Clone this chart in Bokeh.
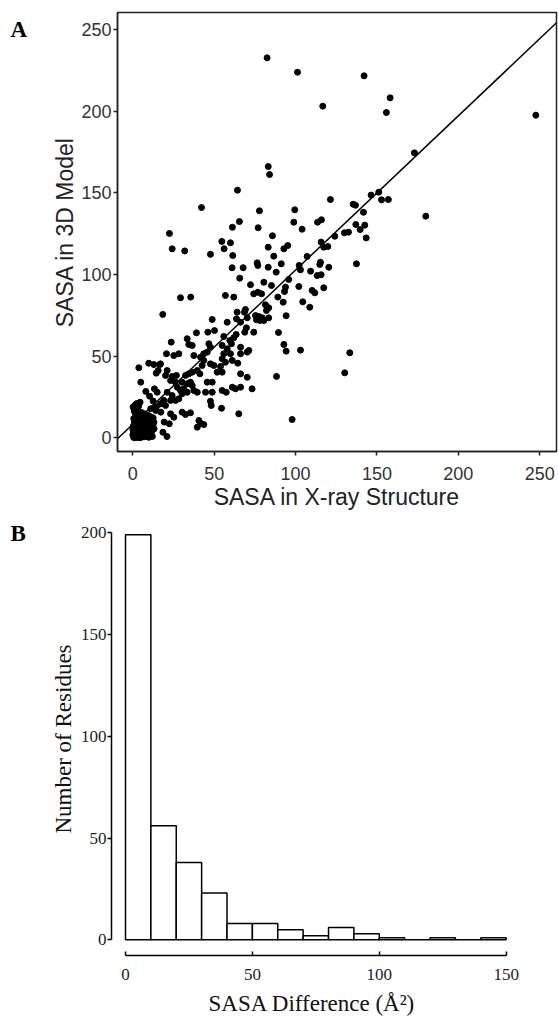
from bokeh.plotting import figure
from bokeh.layouts import column, row
from bokeh.models import FixedTicker, Range1d
from bokeh.core.properties import value
from bokeh.embed import file_html
from bokeh.resources import INLINE

# ---------------- Panel A data: SASA in X-ray structure vs 3D model ----------------
xray = [
    82.5, 83.2, 84.0, 64.3, 42.2, 77.8, 65.5, 22.5, 61.2, 77.0, 85.8, 54.7, 60.0, 24.2, 56.1, 83.2, 31.9,
    101.2, 142.1, 158.1, 116.7, 155.8, 247.6, 173.0, 121.4, 135.4, 136.8, 146.4, 151.1, 152.8, 157.0,
    99.5, 141.7, 180.0, 98.9, 113.5, 115.9, 104.0, 137.0, 142.5, 139.7, 130.0, 132.5, 143.4, 124.1,
    115.7, 119.8, 117.3, 95.2, 92.8,
    86.6, 107.1, 91.2, 102.2, 115.3, 114.9, 120.4, 88.1, 103.0, 109.2, 113.3, 115.7, 95.8, 85.2, 102.0,
    93.8, 93.2, 110.2, 111.8, 117.3, 89.1, 92.4, 104.4, 108.7, 137.4, 94.2, 89.5, 92.8, 94.2, 103.0,
    133.3, 130.2, 88.3, 97.9,
    47.7, 61.4, 61.0, 67.8, 76.4, 76.8, 83.2, 65.7, 72.3, 80.5, 74.3, 76.8, 79.1, 56.9, 62.0, 81.5,
    83.5, 69.2, 64.1, 75.4, 77.4, 79.5, 78.0, 76.0, 80.5, 83.5, 82.1, 48.8, 58.0, 63.7, 66.2, 70.3,
    68.6, 46.1, 50.2, 55.9, 62.0, 63.5, 74.3, 69.8, 68.8,
    29.3, 35.6, 18.4, 39.1, 23.6, 33.4, 34.4, 36.5,
    59.6, 60.6, 66.2, 71.3, 46.7, 47.7, 45.7, 43.6, 54.9, 58.0, 60.0, 61.1, 56.9, 54.9, 55.9, 20.7,
    25.2, 28.3, 37.5, 41.6, 43.6, 42.6, 39.6, 41.2, 47.7, 49.8, 66.2, 70.3, 54.9, 66.2, 70.3, 17.0,
    21.1, 20.1, 24.2, 26.8, 23.2, 26.2, 32.4, 34.4, 36.5, 30.3, 33.4, 35.4, 27.3, 29.3, 31.3, 33.4,
    30.3, 36.5, 37.5, 21.1, 24.2, 26.2, 28.3, 23.2, 19.0, 17.0, 20.1, 39.6, 44.7, 48.8, 45.7, 48.8,
    54.9, 57.4, 61.1, 63.1, 66.2, 73.3, 65.1, 47.7, 48.2, 54.5, 30.3, 32.4, 35.4, 23.2, 25.2, 40.6,
    53.9, 64.5, 51.8,
    3.7, 9.8, 12.9, 16.6, 14.4, 15.6, 39.6, 41.6, 43.6, 13.3, 15.0,
    4.9, 8.0, 4.5, 0.2, 1.5, 11.0, 14.1, 13.1, 17.2, 19.3, 22.4, 18.5, 21.0, 12.5, 10.3,
    0.5, 1.2, 2.0, 3.1, 0.8, 2.5, 4.0, 4.8, 5.5, 6.2, 1.5, 3.3, 5.1, 6.8, 7.5, 8.3, 0.3, 2.2, 4.2, 6.0,
    7.9, 9.0, 9.6, 1.0, 3.0, 5.0, 7.1, 8.8, 10.2, 10.8, 0.6, 2.6, 4.6, 6.5, 8.4, 10.0, 11.5, 1.8, 3.8,
    5.8, 7.6, 9.5, 11.2, 12.3, 0.9, 3.1, 5.2, 7.0, 8.9, 10.6, 12.5, 13.0, 2.0, 3.9, 1.1, 2.9, 4.5,
    6.9, 8.1, 0.0, 0.1, 9.8, 12.0, 11.0, 1.6, 3.6, 14.5, 2.4,
]
model = [
    232.8, 166.2, 161.3, 151.7, 141.1, 139.1, 132.5, 125.2, 129.0, 128.7, 123.8, 120.3, 119.5, 115.8, 115.8, 116.8, 114.5,
    224.0, 221.8, 208.3, 203.2, 199.3, 197.7, 174.6, 146.0, 143.1, 142.5, 148.7, 150.5, 145.8, 146.0,
    139.7, 138.2, 135.8, 132.1, 132.1, 133.6, 127.8, 130.7, 130.3, 127.6, 125.6, 126.0, 122.5, 123.5,
    119.9, 117.2, 116.8, 117.8, 115.8,
    111.3, 111.1, 106.6, 105.6, 107.6, 106.2, 104.5, 101.5, 102.9, 102.1, 99.4, 99.9, 97.0, 93.3, 92.7,
    92.3, 89.6, 90.3, 88.8, 91.9, 86.2, 83.1, 83.3, 80.0, 106.6, 74.8, 64.5, 57.2, 53.1, 53.7,
    52.1, 39.8, 37.6, 11.2,
    112.4, 111.7, 104.2, 104.2, 107.2, 105.6, 104.5, 97.8, 93.8, 95.3, 88.2, 89.2, 88.2, 87.2, 86.2, 81.5,
    79.7, 78.6, 77.0, 74.9, 74.3, 73.5, 71.9, 72.3, 71.9, 73.5, 78.0, 72.5, 70.8, 72.9, 70.8, 73.5,
    77.0, 64.7, 65.7, 62.1, 61.3, 63.3, 64.7, 67.4, 64.7,
    85.8, 86.2, 75.6, 64.3, 58.6, 60.7, 57.2, 56.6,
    59.6, 57.6, 55.5, 53.5, 57.6, 55.5, 52.5, 51.5, 56.6, 54.5, 51.5, 47.4, 46.3, 48.4, 51.5, 51.5,
    50.4, 51.5, 50.4, 49.4, 47.4, 44.3, 41.2, 39.2, 45.3, 44.3, 51.5, 52.5, 40.2, 39.2, 37.1, 45.3,
    41.2, 38.2, 37.6, 38.2, 35.1, 34.1, 38.2, 39.2, 40.2, 34.1, 33.1, 34.1, 31.0, 29.0, 30.0, 27.9,
    27.0, 32.0, 29.0, 27.9, 25.9, 22.9, 23.9, 22.9, 22.9, 20.8, 19.8, 27.9, 27.9, 27.9, 34.1, 34.1,
    29.0, 27.9, 31.0, 30.0, 31.0, 30.0, 14.7, 22.4, 19.8, 18.1, 15.7, 14.3, 15.3, 14.7, 12.6, 10.6,
    43.7, 45.7, 40.2,
    42.9, 45.7, 44.9, 44.9, 39.6, 41.2, 6.5, 8.9, 8.1, 30.0, 27.9,
    34.1, 28.4, 21.8, 18.8, 20.2, 17.8, 16.7, 5.5, 15.7, 9.6, 8.6, 3.4, 0.8, 22.5, 25.5,
    0.3, 1.5, 0.8, 2.2, 3.4, 4.1, 1.0, 3.3, 0.5, 2.4, 5.6, 6.2, 5.0, 4.4, 1.6, 3.0, 7.1, 8.0, 7.5, 6.8,
    5.9, 2.1, 4.6, 9.4, 10.1, 9.0, 8.3, 7.2, 6.0, 1.2, 11.8, 12.5, 11.6, 10.7, 9.9, 9.0, 3.5, 14.3, 13.9,
    13.2, 12.4, 11.6, 10.4, 7.3, 16.2, 16.8, 15.6, 14.7, 14.0, 13.0, 12.2, 9.5, 2.9, 4.8, 0.0, 0.2, 0.1,
    0.6, 0.9, 1.9, 5.0, 0.3, 0.8, 5.5, 18.2, 19.4, 19.0, 21.0,
]
fit_slope = 0.945
fit_intercept = 8.3
a_ticks = [0, 50, 100, 150, 200, 250]

# ---------------- Panel B data: histogram of SASA differences ----------------
bin_edges = [0, 10, 20, 30, 40, 50, 60, 70, 80, 90, 100, 110, 120, 130, 140, 150]
counts = [199, 56, 38, 23, 8, 8, 5, 2, 6, 3, 1, 0, 1, 0, 1]
b_xticks = [0, 50, 100, 150]
b_yticks = [0, 50, 100, 150, 200]

panel_letters = ["A", "B"]

SANS = "Liberation Sans"
SERIF = "Liberation Serif"

LAB_W = 32
HA = 513
HB = 508


def letter_fig(letter, height, baseline):
    f = figure(width=LAB_W, height=height, x_range=Range1d(0, LAB_W), y_range=Range1d(height, 0),
               title=None, x_axis_type=None, y_axis_type=None, output_backend="svg", toolbar_location=None,
               min_border_left=0, min_border_right=0, min_border_top=0, min_border_bottom=0)
    f.outline_line_color = None
    f.grid.visible = False
    f.text(x=[10], y=[baseline], text=[letter], text_font=value(SERIF), text_font_style="bold",
           text_font_size="23px", text_baseline="alphabetic", text_align="left", text_color="black")
    return f


# ---------------- Panel A ----------------
xa0, xa1 = -9.4, 260.3
pA = figure(width=558 - LAB_W, height=HA, x_range=Range1d(xa0, xa1), y_range=Range1d(-8.4, 260.6),
            title=None, output_backend="svg", toolbar_location=None,
            min_border_left=117 - LAB_W, min_border_right=2, min_border_top=12, min_border_bottom=HA - 451)
pA.grid.visible = False
pA.outline_line_color = "#222222"
pA.outline_line_width = 1.5

pA.scatter(xray, model, size=6, color="black")
lx = [xa0, xa1]
ly = [fit_slope * v + fit_intercept for v in lx]
pA.line(lx, ly, line_color="black", line_width=1.5)

for ax in (pA.xaxis[0], pA.yaxis[0]):
    ax.ticker = FixedTicker(ticks=a_ticks)
    ax.minor_tick_line_color = None
    ax.axis_line_color = "#222222"
    ax.axis_line_width = 1.5
    ax.major_tick_line_color = "#222222"
    ax.major_tick_line_width = 1.5
    ax.major_tick_in = 0
    ax.major_tick_out = 4
    ax.major_label_text_font = SANS
    ax.major_label_text_font_size = "18px"
    ax.major_label_text_color = "#333333"
    ax.axis_label_text_font = SANS
    ax.axis_label_text_font_size = "23px"
    ax.axis_label_text_font_style = "normal"
    ax.axis_label_text_color = "#222222"
pA.xaxis.major_label_standoff = 11
pA.yaxis.major_label_standoff = 2
pA.xaxis.axis_label = "SASA in X-ray Structure"
pA.yaxis.axis_label = "SASA in 3D Model"
pA.xaxis.axis_label_standoff = 1
pA.yaxis.axis_label_standoff = 0

# ---------------- Panel B ----------------
pB = figure(width=558 - LAB_W, height=HB, x_range=Range1d(-5.52, 152.5), y_range=Range1d(-7.71, 205.06),
            title=None, output_backend="svg", toolbar_location=None,
            min_border_left=111 - LAB_W, min_border_right=46, min_border_top=9, min_border_bottom=66)
pB.grid.visible = False
pB.outline_line_color = None

pB.quad(left=bin_edges[:-1], right=bin_edges[1:], top=counts, bottom=0,
        fill_color="white", line_color="black", line_width=1.5)

pB.xaxis.ticker = FixedTicker(ticks=b_xticks)
pB.yaxis.ticker = FixedTicker(ticks=b_yticks)
pB.xaxis.bounds = (0, 150)
pB.yaxis.bounds = (0, 200)
for ax in (pB.xaxis[0], pB.yaxis[0]):
    ax.minor_tick_line_color = None
    ax.axis_line_color = "black"
    ax.axis_line_width = 1.5
    ax.major_tick_line_color = "black"
    ax.major_tick_line_width = 1.5
    ax.major_label_text_font = SERIF
    ax.major_label_text_font_size = "17px"
    ax.major_label_text_color = "#222222"
    ax.axis_label_text_font = SERIF
    ax.axis_label_text_font_size = "23px"
    ax.axis_label_text_font_style = "normal"
    ax.axis_label_text_color = "#111111"
pB.xaxis.major_tick_in = 4
pB.xaxis.major_tick_out = 0
pB.yaxis.major_tick_in = 0
pB.yaxis.major_tick_out = 4
pB.xaxis.major_label_standoff = 13
pB.yaxis.major_label_standoff = 1
pB.xaxis.axis_label = "SASA Difference (Å²)"
pB.yaxis.axis_label = "Number of Residues"
pB.xaxis.axis_label_standoff = 8
pB.yaxis.axis_label_standoff = 2

labA = letter_fig(panel_letters[0], HA, 20)
labB = letter_fig(panel_letters[1], HB, 13)

layout = column(row(labA, pA), row(labB, pB))
open("out.html", "w").write(file_html(layout, INLINE))
